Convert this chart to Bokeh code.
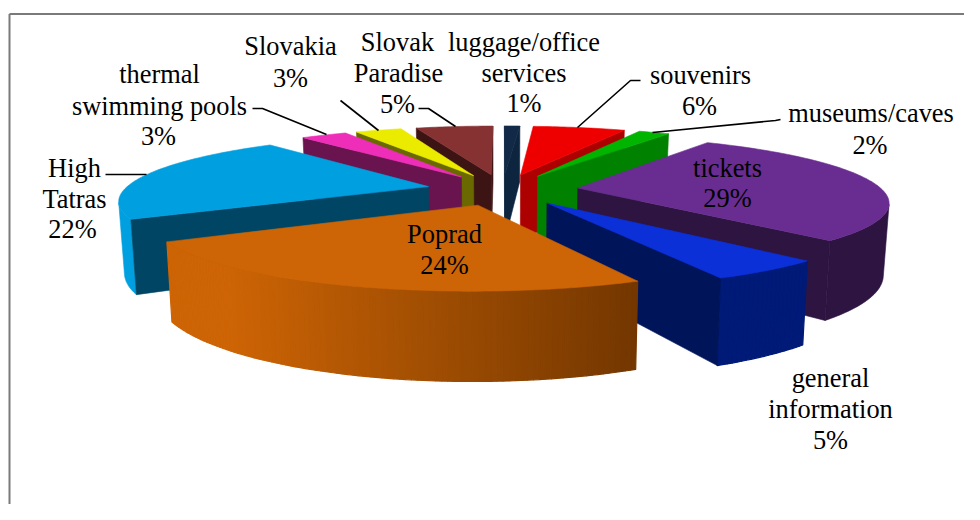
import math
from bokeh.plotting import figure
from bokeh.embed import file_html
from bokeh.resources import INLINE
from bokeh.core.properties import value

# ---- data, clockwise from 12 o'clock
categories = ["luggage/office services", "souvenirs", "museums/caves", "tickets",
              "general information", "Poprad", "High Tatras",
              "thermal swimming pools", "Slovakia", "Slovak Paradise"]
shares = [1, 6, 2, 29, 5, 24, 22, 3, 3, 5]

# ---- styles
top_colors = ["#122a48", "#ee0000", "#00b400", "#692d91", "#0c30d8",
              "#cd6405", "#00a0e0", "#ee2db8", "#ebeb00", "#873232"]
wall_colors = ["#0e2540", "#ad0000", "#008200", "#2d1441", "#00145a",
               "#733700", "#004664", "#69144f", "#696900", "#3c1414"]
rim_left = ["#0e2540", "#ad0000", "#008200", "#2d1441", "#001870",
            "#cd6405", "#00a0e0", "#69144f", "#696900", "#3c1414"]
rim_right = ["#0e2540", "#ad0000", "#008200", "#2d1441", "#001a78",
             "#733700", "#00a0e0", "#69144f", "#696900", "#3c1414"]

# ---- camera / layout
CX, CY = 502.0, 189.0
F, G, D, H = 1605.0, 332.0, 5.28, 365.0
CONVERGE = 0.985
EXPLODE = 0.25


def project(X, Y, low=False):
    d = D + Y
    sx = CX + F * X / d
    sy = CY - G * Y / d
    if low:
        sx = CX + (sx - CX) * CONVERGE
        sy += H / d
    return sx, sy


def mix(c1, c2, t):
    t = max(0.0, min(1.0, t))
    a = [int(c1[i:i + 2], 16) for i in (1, 3, 5)]
    b = [int(c2[i:i + 2], 16) for i in (1, 3, 5)]
    return "#%02x%02x%02x" % tuple(round(p + (q - p) * t) for p, q in zip(a, b))


def area(pts):
    s = 0.0
    for i, (x, y) in enumerate(pts):
        u, v = pts[(i + 1) % len(pts)]
        s += x * v - u * y
    return s


total = sum(shares)
starts, acc = [], 0.0
for s in shares:
    starts.append(acc / total * 2 * math.pi)
    acc += s
spans = [s / total * 2 * math.pi for s in shares]
mids = [a + b / 2 for a, b in zip(starts, spans)]
order = sorted(range(len(shares)), key=lambda i: -math.cos(mids[i]))

xs, ys, fills, widths = [], [], [], []


def add(pts, color, width=0.6):
    xs.append([p[0] for p in pts])
    ys.append([p[1] for p in pts])
    fills.append(color)
    widths.append(width)


for i in order:
    ax, ay = EXPLODE * math.sin(mids[i]), EXPLODE * math.cos(mids[i])
    n = max(4, int(shares[i] * 4))
    ring = []
    for k in range(n + 1):
        th = starts[i] + spans[i] * k / n
        ring.append((ax + math.sin(th), ay + math.cos(th)))
    apex = (ax, ay)
    # rim: visible quads; a single colour rim is merged into one outline
    shown = []
    for k in range(n):
        P, Q = ring[k], ring[k + 1]
        quad = [project(*P), project(*Q), project(*Q, low=True), project(*P, low=True)]
        if area(quad) < 0:
            shown.append(quad)
    if shown and rim_left[i] == rim_right[i]:
        add([q[0] for q in shown] + [shown[-1][1], shown[-1][2]] + [q[3] for q in reversed(shown)],
            rim_left[i])
    else:
        for quad in shown:
            t = (quad[0][0] - 230) / (640 - 230)
            add(quad, mix(rim_left[i], rim_right[i], t), 1.2)
    # radial walls
    for P, Q in ((apex, ring[0]), (ring[-1], apex)):
        quad = [project(*P), project(*Q), project(*Q, low=True), project(*P, low=True)]
        if area(quad) < 0:
            add(quad, wall_colors[i])
    # top face
    add([project(*apex)] + [project(*r) for r in ring], top_colors[i])

p = figure(width=964, height=504, x_range=(0, 964), y_range=(504, 0),
           output_backend="svg", toolbar_location=None, min_border=0)
p.axis.visible = False
p.grid.visible = False
p.outline_line_color = None
p.background_fill_color = "white"
p.border_fill_color = "white"

# frame
p.line([9, 9], [504, 13.5], line_color="#7a7a7a", line_width=2)
p.line([9, 964], [13.5, 13.5], line_color="#7a7a7a", line_width=2)

p.patches(xs, ys, fill_color=fills, line_color=fills, line_width=widths)

# leader lines
leaders = [
    ([252, 262, 326], [108, 108, 134]),
    ([340, 378], [100, 130]),
    ([418, 428, 455], [108, 108, 126]),
    ([105, 146], [174, 174]),
    ([640, 630, 577], [80, 80, 127]),
    ([780, 775, 652], [119, 120, 132]),
]
for lx, ly in leaders:
    p.line(lx, ly, line_color="black", line_width=1.6)

# labels: one line of text per entry
label_lines = [
    ("luggage/office", 523.5, 41), ("services", 523.5, 72), ("1%", 523.5, 102),
    ("souvenirs", 700, 74), ("6%", 699, 105),
    ("museums/caves", 870.5, 112), ("2%", 869.5, 144),
    ("tickets", 727, 167), ("29%", 727, 197),
    ("general", 830, 377), ("information", 830, 408), ("5%", 830, 439),
    ("Poprad", 444, 233), ("24%", 444, 264),
    ("High", 74, 167), ("Tatras", 74, 198), ("22%", 72, 228),
    ("thermal", 159, 73), ("swimming pools", 159, 105), ("3%", 158, 135),
    ("Slovakia", 290, 45), ("3%", 290, 77),
    ("Slovak", 397, 41), ("Paradise", 398, 72), ("5%", 397, 103),
]
p.text(x=[l[1] for l in label_lines], y=[l[2] for l in label_lines],
       text=[l[0] for l in label_lines],
       text_font=value("Liberation Serif"), text_font_size="26.4px",
       text_color="black", text_align="center", text_baseline="middle")

open("out.html", "w").write(file_html(p, INLINE))
